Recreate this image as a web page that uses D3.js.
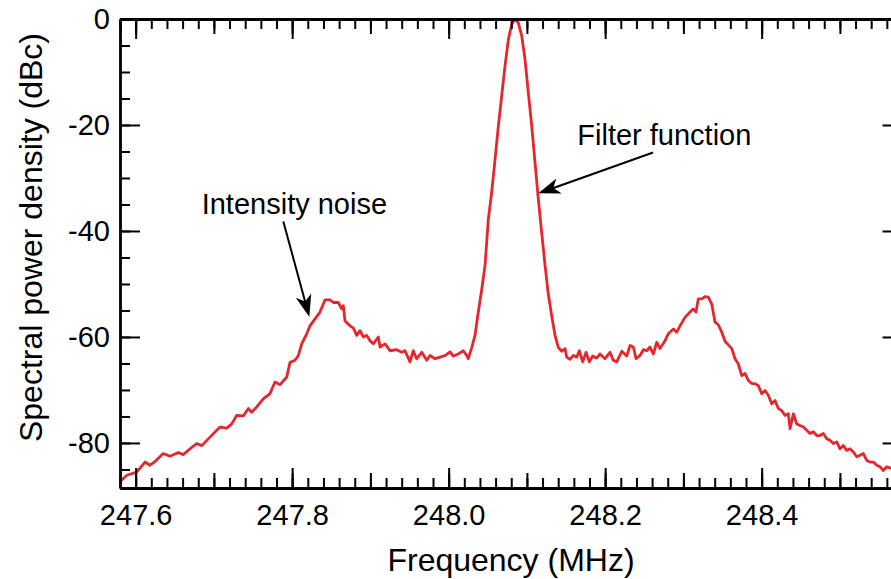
<!DOCTYPE html>
<html>
<head>
<meta charset="utf-8">
<script src="https://cdn.jsdelivr.net/npm/d3@7"></script>
<style>
  body { margin: 0; background: #fff; }
  svg { display: block; font-family: "Liberation Sans", Arial, sans-serif; }
</style>
</head>
<body>
<div id="chart"></div>
<script>
// ------------------------------------
// Spectrum data
// ------------------------------------
const freq = [247.580, 247.5886, 247.6013, 247.6120, 247.6183, 247.6247, 247.6353, 247.6439, 247.6545, 247.6609,
  247.6695, 247.6780, 247.6844, 247.6950, 247.7036, 247.7078, 247.7164, 247.7228, 247.7291, 247.7376,
  247.7440, 247.7483, 247.7547, 247.7631, 247.7717, 247.7781, 247.7845, 247.7930, 247.7973, 247.8037,
  247.8079, 247.8122, 247.8186, 247.8228, 247.8292, 247.8356, 247.8420, 247.8484, 247.8526, 247.8590,
  247.8633, 247.8654, 247.8676, 247.8739, 247.8782, 247.8825, 247.8867, 247.8909, 247.8953, 247.8995,
  247.9037, 247.9101, 247.9123, 247.9187, 247.9251, 247.9336, 247.9400, 247.9442, 247.9506, 247.9548,
  247.9592, 247.9656, 247.9720, 247.9762, 247.9826, 247.9890, 247.9954, 248.0017, 248.0060, 248.0124,
  248.0187, 248.0231, 248.0251, 248.0295, 248.0337, 248.0379, 248.0423, 248.0465, 248.0507, 248.0550,
  248.0593, 248.0635, 248.0678, 248.0720, 248.0763, 248.0806, 248.0848, 248.0890, 248.0934, 248.0976,
  248.1018, 248.1062, 248.1104, 248.1146, 248.1189, 248.1232, 248.1274, 248.1317, 248.1359, 248.1402,
  248.1445, 248.1487, 248.1509, 248.1551, 248.1593, 248.1637, 248.1670, 248.1713, 248.1756, 248.1798,
  248.1841, 248.1892, 248.1934, 248.1998, 248.2062, 248.2104, 248.2148, 248.2212, 248.2276, 248.2318,
  248.2360, 248.2395, 248.2446, 248.2488, 248.2531, 248.2573, 248.2616, 248.2659, 248.2701, 248.2765,
  248.2807, 248.2871, 248.2915, 248.2957, 248.3021, 248.3085, 248.3127, 248.3161, 248.3191, 248.3234,
  248.3276, 248.3319, 248.3362, 248.3404, 248.3446, 248.3490, 248.3532, 248.3574, 248.3618, 248.3660,
  248.3702, 248.3745, 248.3788, 248.3830, 248.3873, 248.3915, 248.3958, 248.4001, 248.4043, 248.4085,
  248.4129, 248.4171, 248.4213, 248.4257, 248.4299, 248.4341, 248.4363, 248.4405, 248.4448, 248.4490,
  248.4533, 248.4576, 248.4618, 248.4660, 248.4704, 248.4746, 248.4788, 248.4832, 248.4874, 248.4916,
  248.4959, 248.5002, 248.5044, 248.5087, 248.5129, 248.5172, 248.5215, 248.5257, 248.5299, 248.5343,
  248.5385, 248.5427, 248.5471, 248.5513, 248.5555, 248.5598, 248.5641, 248.5768];

const power = [-87.3, -86.1, -85.5, -83.6, -84.2, -83.5, -82.0, -82.5, -81.8, -82.2,
  -81.1, -80.1, -80.5, -78.9, -77.6, -77.0, -77.2, -76.4, -74.8, -74.9,
  -73.5, -74.2, -73.2, -71.7, -70.7, -68.5, -69.0, -67.6, -64.8, -64.4,
  -63.5, -61.3, -59.4, -57.9, -56.6, -55.3, -53.0, -53.0, -53.5, -53.5,
  -54.7, -54.1, -57.0, -57.9, -58.3, -59.7, -58.8, -60.0, -59.7, -60.7,
  -61.3, -60.0, -61.9, -61.3, -62.6, -62.4, -62.9, -62.6, -64.7, -62.6,
  -64.1, -62.9, -64.4, -63.5, -64.1, -63.8, -63.5, -62.8, -63.6, -63.2,
  -62.6, -63.5, -64.1, -62.0, -59.7, -55.3, -51.0, -46.5, -37.8, -32.7,
  -26.5, -20.2, -14.5, -8.9, -3.9, -1.0, 0, -0.7, -3.2, -7.6,
  -13.9, -20.2, -27.1, -34.0, -40.3, -46.5, -52.0, -56.0, -59.7, -62.0,
  -62.7, -62.2, -63.8, -64.2, -63.5, -63.8, -62.6, -64.7, -62.9, -64.7,
  -63.6, -64.0, -63.2, -64.1, -62.9, -64.4, -64.7, -62.7, -63.6, -61.6,
  -61.9, -64.1, -63.5, -62.4, -62.6, -61.9, -63.2, -61.0, -62.2, -60.7,
  -59.4, -58.5, -59.1, -57.9, -56.3, -55.3, -54.7, -55.3, -52.8, -52.8,
  -52.4, -52.5, -53.8, -57.2, -57.7, -59.1, -60.8, -61.5, -62.2, -64.1,
  -65.1, -67.3, -66.9, -68.2, -68.8, -68.8, -69.2, -70.7, -70.1, -71.0,
  -72.6, -72.0, -73.5, -73.9, -74.8, -74.5, -77.3, -74.5, -76.4, -76.7,
  -77.0, -77.6, -78.2, -77.9, -78.6, -78.6, -78.2, -79.2, -79.5, -80.1,
  -79.8, -81.1, -80.5, -81.4, -81.1, -81.7, -82.6, -82.3, -82.0, -83.3,
  -83.6, -83.6, -84.2, -84.5, -85.2, -84.5, -84.7, -85.2];

// axis ticks
const xLabelTicks = [247.6, 247.8, 248.0, 248.2, 248.4];
const yLabelTicks = [0, -20, -40, -60, -80];

// annotations: text anchor + arrow tail -> tip (data units)
const notes = [
  { text: "Filter function", tx: 248.1644, ty: -23.8, x0: 248.2612, y0: -25.2, x1: 248.1146, y1: -32.9 },
  { text: "Intensity noise", tx: 247.6844, ty: -36.8, x0: 247.7887, y0: -38.2, x1: 247.8219, y1: -56.2 }
];

// ------------------------------------
// Build chart
// ------------------------------------
const width = 891, height = 579;
const plotL = 120, plotT = 19, plotR = 902.5, plotB = 488;

const svg = d3.select("#chart").append("svg")
    .attr("width", width)
    .attr("height", height);

const x = d3.scaleLinear().domain([247.58, 248.58]).range([plotL, plotR]);
const y = d3.scaleLinear().domain([-88.5, 0]).range([plotB, plotT]);

const xMinor = d3.range(0, 51).map(i => +(247.58 + i * 0.02).toFixed(2));
const xMid = d3.range(0, 10).map(i => +(247.6 + i * 0.1).toFixed(1));
const yMinor = d3.range(-85, 1, 5);

svg.append("clipPath").attr("id", "plot-clip")
  .append("rect")
    .attr("x", plotL).attr("y", plotT)
    .attr("width", plotR - plotL).attr("height", plotB - plotT);

// spectrum line
const series = freq.map((f, i) => ({ f: f, p: power[i] }));
const line = d3.line().x(d => x(d.f)).y(d => y(d.p));

svg.append("path")
    .datum(series)
    .attr("clip-path", "url(#plot-clip)")
    .attr("fill", "none")
    .attr("stroke", "#e5262c")
    .attr("stroke-width", 2.8)
    .attr("stroke-linejoin", "round")
    .attr("d", line);

// --------- axes ----------
function styleAxis(g, fontSize) {
  g.selectAll("path.domain").attr("stroke", "#000").attr("stroke-width", 2.4);
  g.selectAll(".tick line").attr("stroke", "#000").attr("stroke-width", 2);
  g.selectAll("text")
      .attr("fill", "#000")
      .style("font-size", fontSize + "px")
      .style("font-family", "'Liberation Sans', Arial, sans-serif");
}

function addX(pos, axisFn, values, size, labels) {
  const ax = axisFn(x).tickValues(values).tickSizeInner(-size).tickSizeOuter(0).tickPadding(16);
  ax.tickFormat(labels ? d => d.toFixed(1) : "");
  const g = svg.append("g").attr("transform", `translate(0,${pos})`).call(ax);
  styleAxis(g, 29);
}

function addY(pos, axisFn, values, size, labels) {
  const ax = axisFn(y).tickValues(values).tickSizeInner(size).tickSizeOuter(0).tickPadding(10);
  // plain hyphen for negatives, like the original
  ax.tickFormat(labels ? d => String(d) : "");
  const g = svg.append("g").attr("transform", `translate(${pos},0)`).call(ax);
  styleAxis(g, 29);
}

// bottom & top
addX(plotB, d3.axisBottom, xMinor, 10, false);
addX(plotB, d3.axisBottom, xMid, 15, false);
addX(plotB, d3.axisBottom, xLabelTicks, 20, true);
addX(plotT, d3.axisTop, xMinor, 10, false);
addX(plotT, d3.axisTop, xMid, 15, false);
addX(plotT, d3.axisTop, xLabelTicks, 20, false);

// left & right (ticks point inward)
addY(plotL, d3.axisLeft, yMinor, -10, false);
addY(plotL, d3.axisLeft, yLabelTicks, -20, true);
addY(plotR, d3.axisLeft, yMinor, 10, false);
addY(plotR, d3.axisLeft, yLabelTicks, 20, false);

// titles
svg.append("text")
    .attr("x", 511).attr("y", 571)
    .attr("text-anchor", "middle")
    .style("font-size", "32px")
    .text("Frequency (MHz)");

svg.append("text")
    .attr("transform", "translate(41.5,237.5) rotate(-90)")
    .attr("text-anchor", "middle")
    .style("font-size", "32px")
    .text("Spectral power density (dBc)");

// --------- annotations ----------
notes.forEach(n => {
  svg.append("text")
      .attr("x", x(n.tx)).attr("y", y(n.ty))
      .style("font-size", "29px")
      .text(n.text);

  const ax0 = x(n.x0), ay0 = y(n.y0), ax1 = x(n.x1), ay1 = y(n.y1);
  const ang = Math.atan2(ay1 - ay0, ax1 - ax0);
  const L = 22, W = 8;

  svg.append("line")
      .attr("x1", ax0).attr("y1", ay0)
      .attr("x2", ax1 - Math.cos(ang) * L * 0.7)
      .attr("y2", ay1 - Math.sin(ang) * L * 0.7)
      .attr("stroke", "#000")
      .attr("stroke-width", 2);

  svg.append("path")
      .attr("d", `M0,0 L${-L},${-W} L${-L * 0.72},0 L${-L},${W} Z`)
      .attr("transform", `translate(${ax1},${ay1}) rotate(${ang * 180 / Math.PI})`)
      .attr("fill", "#000");
});
</script>
</body>
</html>
